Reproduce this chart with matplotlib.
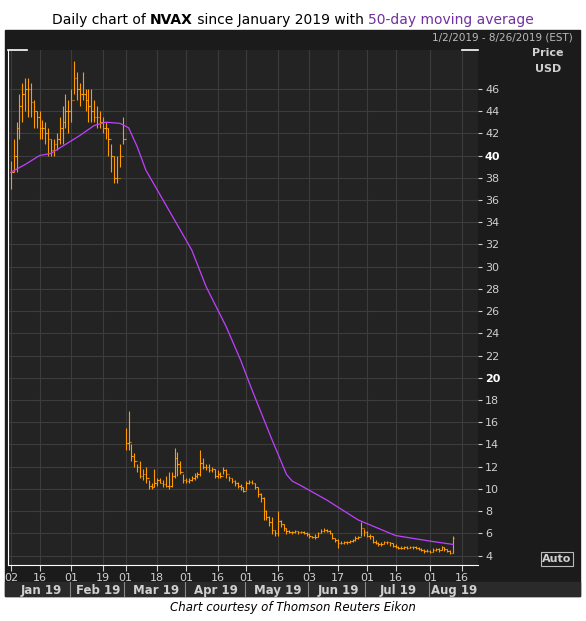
import numpy as np
import pandas as pd
import matplotlib
matplotlib.use("Agg")
import matplotlib.pyplot as plt

# daily OHLC (close/high/low), Jan 2 - Aug 13 2019
closes = [38.5, 40, 42.5, 44.5, 45.5, 46, 46, 44.8, 44, 43.5, 42.5, 42.5, 42, 41.5, 40.5, 41, 41.5, 42.5, 43, 44, 44,
          45, 47, 46, 45.5, 45.5, 45, 44.5, 44, 43.5, 43.5, 43, 42.5, 42.5, 41.5, 40, 38, 38, 40, 41.5,
          14.1, 14.2, 13, 12.5, 12, 11.2, 11.3, 11, 10.3, 10.2, 10.5, 10.8, 10.5, 10.4, 10.3, 10.3, 11.2, 12.8, 12.2, 11.5, 10.8,
          10.7, 10.8, 11.0, 11.2, 11.3, 12.3, 12.0, 12.0, 11.7, 11.8, 11.2, 11.3, 11.2, 11.7, 11.3, 11.0, 10.7, 10.5, 10.3, 10.2, 9.8,
          10.5, 10.6, 10.5, 10.2, 9.5, 9.2, 8.0, 7.5, 7.0, 6.3, 6.0, 7.1, 6.8, 6.5, 6.2, 6.1, 6.1, 6.2, 6.1, 6.1, 6.0, 5.9,
          5.8, 5.7, 5.7, 6.0, 6.2, 6.3, 6.2, 6.0, 5.6, 5.4, 5.1, 5.1, 5.2, 5.2, 5.3, 5.4, 5.6, 5.7, 6.5, 6.1,
          5.8, 5.8, 5.2, 5.1, 5.0, 5.0, 5.2, 5.2, 5.1, 4.9, 4.8, 4.7, 4.7, 4.8, 4.7, 4.8, 4.8, 4.7, 4.6, 4.5, 4.4, 4.4,
          4.3, 4.5, 4.6, 4.5, 4.8, 4.6, 4.4, 4.2, 5.6]
highs = [39.5, 41.5, 43, 45.5, 46.5, 47, 47, 46.5, 45, 44, 44, 43.2, 43, 42.5, 41.5, 41.5, 42, 43.5, 44.5, 45.5, 45,
         46, 48.5, 47.5, 46.5, 47.5, 46, 46, 46, 45, 44.5, 44, 43.5, 43, 42.5, 41, 40, 40, 41, 43.5,
         15.5, 17, 14, 13.2, 12.2, 12.5, 11.8, 12, 10.8, 10.5, 11.8, 11, 11, 10.8, 11.2, 11.5, 11.5, 13.7, 13.3, 12.5, 11.3,
         11, 11, 11.2, 11.4, 11.5, 13.5, 12.8, 12.2, 12.2, 12, 11.8, 11.7, 11.5, 12, 11.8, 11.2, 11, 10.8, 10.6, 10.4, 10.2,
         10.7, 10.8, 10.8, 10.5, 10.2, 9.6, 9.3, 8.1, 7.6, 7.5, 6.3, 8.0, 7.2, 6.8, 6.5, 6.3, 6.2, 6.3, 6.2, 6.2, 6.2, 6.1,
         6.0, 5.8, 5.9, 6.1, 6.4, 6.5, 6.4, 6.3, 6.0, 5.6, 5.5, 5.3, 5.3, 5.3, 5.4, 5.5, 5.8, 5.8, 7.0, 6.4,
         6.2, 5.9, 5.8, 5.4, 5.2, 5.2, 5.3, 5.3, 5.2, 5.1, 5.0, 4.9, 4.9, 4.9, 4.9, 4.9, 4.9, 4.9, 4.8, 4.7, 4.6, 4.6,
         4.5, 4.7, 4.7, 4.7, 4.9, 4.8, 4.6, 4.5, 5.8]
lows = [37, 38.5, 38.5, 41.5, 43, 44, 43.5, 43.5, 42.5, 42.5, 41.5, 41.5, 41, 40, 40, 40, 40.5, 41, 41, 42.5, 42,
        43, 45.5, 45, 44.5, 45, 44, 43, 43, 43, 42.5, 42.5, 42, 41.5, 40, 38.5, 37.5, 37.5, 39, 41,
        13.5, 13.5, 12.5, 12, 11.5, 11, 10.8, 10.5, 10, 10, 10.2, 10.3, 10.5, 10.2, 10.2, 10, 10.2, 11, 11.2, 11.3, 10.5,
        10.5, 10.5, 10.7, 10.8, 11, 11.2, 11.8, 11.7, 11.5, 11.5, 11, 11, 11, 11.3, 11, 10.7, 10.5, 10.3, 10.1, 9.9, 9.7,
        9.9, 10.4, 10.4, 10.0, 9.3, 8.8, 7.2, 7.2, 6.7, 5.9, 5.8, 5.8, 6.6, 6.2, 5.9, 6.0, 5.9, 6.0, 5.9, 6.0, 5.9, 5.8,
        5.6, 5.6, 5.5, 5.7, 6.0, 6.1, 6.1, 5.9, 5.5, 5.2, 4.7, 5.0, 5.0, 5.0, 5.1, 5.2, 5.3, 5.5, 5.8, 5.8,
        5.7, 5.5, 5.1, 5.0, 4.9, 4.9, 5.0, 5.0, 4.9, 4.8, 4.7, 4.6, 4.6, 4.6, 4.6, 4.7, 4.6, 4.6, 4.5, 4.4, 4.2, 4.3,
        4.2, 4.3, 4.4, 4.3, 4.5, 4.4, 4.3, 4.1, 4.2]

# 50-day moving average, readings along the curve
ma_dates = ["2019-01-02", "2019-01-09", "2019-01-16", "2019-01-23", "2019-01-30", "2019-02-06", "2019-02-13",
            "2019-02-20", "2019-02-27", "2019-03-04", "2019-03-07", "2019-03-12", "2019-03-22", "2019-04-03",
            "2019-04-10", "2019-04-22", "2019-04-29", "2019-05-03", "2019-05-14", "2019-05-21", "2019-05-23",
            "2019-05-29", "2019-06-11", "2019-06-26", "2019-07-16", "2019-08-01", "2019-08-13"]
ma_values = [38.5, 39.2, 40.0, 40.2, 41.0, 41.8, 42.7, 43.0, 42.9, 42.5, 40.8, 38.7, 35.1, 31.5,
             28.2, 24.6, 21.6, 18.9, 14.4, 11.3, 10.7, 10.3, 9.0, 7.2, 5.8, 5.3, 5.0]

day_ticks = ["2019-01-02", "2019-01-16", "2019-02-01", "2019-02-19", "2019-03-01", "2019-03-18", "2019-04-01",
             "2019-04-16", "2019-05-01", "2019-05-16", "2019-06-03", "2019-06-17", "2019-07-01", "2019-07-16",
             "2019-08-01", "2019-08-16"]
months = ["Jan 19", "Feb 19", "Mar 19", "Apr 19", "May 19", "Jun 19", "Jul 19", "Aug 19"]

holidays = pd.to_datetime(["2019-01-21", "2019-02-18", "2019-04-19", "2019-05-27", "2019-07-04"])
cal = pd.bdate_range("2019-01-02", "2019-09-30")
cal = cal[~cal.isin(holidays)]


def pos(d):
    return int(cal.searchsorted(pd.Timestamp(d)))


n = len(closes)
x = np.arange(n)
opens = [closes[0]] + closes[:-1]

bg_out = "#1b1b1b"
bg_in = "#232323"
txt = "#d0d0d0"
orange = "#ff9a00"

fig = plt.figure(figsize=(5.86, 6.21), dpi=100)
fig.patch.set_facecolor("white")
fig.add_artist(plt.Rectangle((5 / 586, 1 - 596 / 621), 575 / 586, 566 / 621,
                             transform=fig.transFigure, color=bg_out, zorder=0))
fig.add_artist(plt.Rectangle((5 / 586, 1 - 596 / 621), 575 / 586, 14 / 621,
                             transform=fig.transFigure, color="#2a2a2a", zorder=0))

ax = fig.add_axes([8 / 586, 1 - 565 / 621, 470 / 586, 515 / 621])
ax.set_facecolor(bg_in)
ax.vlines(x, lows, highs, color=orange, lw=0.8)
ax.hlines(opens, x - 0.45, x, color=orange, lw=0.8)
ax.hlines(closes, x, x + 0.45, color=orange, lw=0.8)
ax.plot([pos(d) for d in ma_dates], ma_values, color="#c040ff", lw=0.9)

ax.set_xlim(-1, 162.7)
ax.set_ylim(3.15, 49.5)
ax.set_yticks(range(4, 48, 2))
ax.yaxis.tick_right()
ax.tick_params(axis="y", colors=txt, labelsize=8, length=3, pad=2)
for lab in ax.get_yticklabels():
    if lab.get_text() in ("20", "40"):
        lab.set_fontweight("bold")
        lab.set_color("white")
tick_x = [pos(d) for d in day_ticks]
ax.set_xticks(tick_x)
ax.set_xticklabels([d[-2:] for d in day_ticks])
ax.tick_params(axis="x", colors=txt, labelsize=8, length=4, pad=2)
ax.grid(True, color="#3c3c3c", lw=0.8)
for s in ax.spines.values():
    s.set_visible(False)
ax.spines["left"].set_visible(True)
ax.spines["bottom"].set_visible(True)
ax.spines["left"].set_color("white")
ax.spines["bottom"].set_color("white")
ax.plot([0, 0.04], [1, 1], color="white", lw=1.2, transform=ax.transAxes, clip_on=False)
ax.plot([0.965, 1], [1, 1], color="white", lw=1.2, transform=ax.transAxes, clip_on=False)

# month row
starts = [pos("2019-%02d-01" % m) for m in range(1, 10)]
for i, m in enumerate(months):
    a, b = max(starts[i], -1), min(starts[i + 1], 162.7)
    ax.text((a + b) / 2, -0.049, m, transform=ax.get_xaxis_transform(), ha="center", va="center",
            color=txt, fontsize=8.5, fontweight="bold")
    if i > 0:
        ax.plot([starts[i] - 0.5] * 2, [-0.033, -0.06], color="#888888", lw=0.8,
                transform=ax.get_xaxis_transform(), clip_on=False)

fig.text(548 / 586, 1 - 53 / 621, "Price", color=txt, fontsize=8, fontweight="bold", ha="center", va="center")
fig.text(548 / 586, 1 - 69 / 621, "USD", color=txt, fontsize=8, fontweight="bold", ha="center", va="center")
fig.text(573 / 586, 1 - 38 / 621, "1/2/2019 - 8/26/2019 (EST)", color="#bbbbbb", fontsize=7.5, ha="right", va="center")
fig.text(557 / 586, 1 - 559 / 621, "Auto", color=txt, fontsize=8, fontweight="bold", ha="center", va="center",
         bbox=dict(facecolor=bg_out, edgecolor="#bbbbbb", pad=1.2, lw=0.8))

# title in pieces, centred as a whole
ty = 1 - 20 / 621
parts = [("Daily chart of ", "normal", "black"), ("NVAX", "bold", "black"),
         (" since January 2019 with ", "normal", "black"), ("50-day moving average", "normal", "#7030a0")]
items = []
for s, w, c in parts:
    t = fig.text(0, ty, s, fontsize=10, fontweight=w, color=c, ha="left", va="center")
    items.append(t)
fig.canvas.draw()
r = fig.canvas.get_renderer()
widths = [t.get_window_extent(r).width for t in items]
cur = (fig.bbox.width - sum(widths)) / 2
for t, w in zip(items, widths):
    t.set_x(cur / fig.bbox.width)
    cur += w

fig.text(0.5, 1 - 607 / 621, "Chart courtesy of Thomson Reuters Eikon", fontsize=8.5, style="italic",
         ha="center", va="center")

fig.savefig("out.png", dpi=100)
